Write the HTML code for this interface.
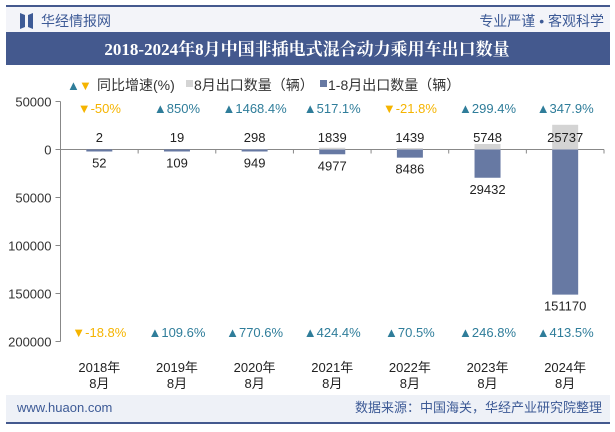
<!DOCTYPE html>
<html><head><meta charset="utf-8"><style>
body{margin:0;width:615px;height:427px;background:#fff;overflow:hidden;font-family:"Liberation Sans","Noto Sans CJK SC",sans-serif}
</style></head><body>
<svg width="615" height="427" xmlns="http://www.w3.org/2000/svg" font-family="Liberation Sans, Noto Sans CJK SC, sans-serif">
<rect x="6" y="5" width="604" height="2" fill="#44598e"/>
<rect x="6" y="7" width="604" height="25" fill="#f3f4f9"/>
<path d="M20 13 L25 15 L25 27 L20 29 Z M33 13 L28 15 L28 27 L33 29 Z" fill="#3d5a96"/>
<text x="41" y="26" font-size="14" fill="#3d5a96">华经情报网</text>
<text x="604" y="26" font-size="14" fill="#3d5a96" text-anchor="end">专业严谨 • 客观科学</text>
<rect x="6" y="32" width="604" height="33" fill="#44598e"/>
<text x="307" y="55" font-size="17" font-weight="bold" fill="#fff" text-anchor="middle" font-family="Liberation Serif, Noto Serif CJK SC, serif">2018-2024年8月中国非插电式混合动力乘用车出口数量</text>
<g>
<text x="67" y="90" font-size="13" fill="#2f7d9a">▲</text>
<text x="79" y="90" font-size="13" fill="#f5b400">▼</text>
<text x="97" y="90" font-size="14" fill="#333">同比增速(%)</text>
<rect x="186" y="80" width="7" height="7" fill="#d4d4d4"/>
<text x="194" y="90" font-size="14" fill="#333">8月出口数量（辆）</text>
<rect x="320" y="80" width="7" height="7" fill="#6779a3"/>
<text x="328" y="90" font-size="14" fill="#333">1-8月出口数量（辆）</text>
</g>
<g id="plot"></g>
<rect x="6" y="395" width="604" height="27" fill="#eef1f7"/>
<rect x="6" y="422" width="604" height="2" fill="#44598e"/>
<text x="17" y="412" font-size="13" fill="#3d5a96">www.huaon.com</text>
<text x="602" y="412" font-size="13" fill="#3d5a96" text-anchor="end">数据来源：中国海关，华经产业研究院整理</text>
</svg>
<script>
const categories=["2018年","2019年","2020年","2021年","2022年","2023年","2024年"];
const augValues=[2,19,298,1839,1439,5748,25737];
const ytdValues=[52,109,949,4977,8486,29432,151170];
const augGrowth=[-50,850,1468.4,517.1,-21.8,299.4,347.9];
const ytdGrowth=[-18.8,109.6,770.6,424.4,70.5,246.8,413.5];
const yTicks=[-50000,0,50000,100000,150000,200000];
const yTickLabels=["50000","0","50000","100000","150000","200000"];

const NS="http://www.w3.org/2000/svg";
const plot=document.getElementById('plot');
const x0=60.5,x1=604,zeroY=149.5,pxPer=192/200000;
const bw=(x1-x0)/categories.length;
function xC(i){return x0+bw*(i+0.5);}
function y(v){return zeroY+v*pxPer;}
function mk(tag,attrs,txt){const e=document.createElementNS(NS,tag);for(const k in attrs)e.setAttribute(k,attrs[k]);if(txt!==undefined)e.textContent=txt;plot.appendChild(e);return e;}
function fmt(v){return (v>0?"▲":"▼")+v+"%";}

let ax=mk('line',{x1:x0,y1:y(-50000),x2:x0,y2:y(200000),stroke:'#888'});


yTicks.forEach((t,i)=>{
 let l=mk('line',{x1:x0-5,x2:x0,y1:y(t),y2:y(t),stroke:'#888'});
 
 
 let tx=mk('text',{x:x0-9,y:y(t)+5,'font-size':13,fill:'#333','text-anchor':'end'},yTickLabels[i]);
 
 
});
let xa=mk('line',{x1:x0,x2:x1,y1:zeroY,y2:zeroY,stroke:'#888'});


for(let i=1;i<=categories.length;i++){
 let l=mk('line',{x1:x0+bw*i,x2:x0+bw*i,y1:zeroY,y2:zeroY+4,stroke:'#888'});
 
 
}
categories.forEach((c,i)=>{
 const cx=xC(i);
 const yt=y(-augValues[i]);
 let g=mk('rect',{x:cx-13,y:yt,width:26,height:Math.max(zeroY-yt,0.5),fill:'#d4d4d4'});
 
 
 const yb=y(ytdValues[i]);
 let b=mk('rect',{x:cx-13,y:zeroY,width:26,height:Math.max(yb-zeroY,2),fill:'#6779a3'});
 
 
 let la=mk('text',{x:cx,y:142,'font-size':13,fill:'#222','text-anchor':'middle'},augValues[i]);
 
 
 let lb=mk('text',{x:cx,y:Math.max(yb,zeroY+2)+16,'font-size':13,fill:'#222','text-anchor':'middle'},ytdValues[i]);
 
 
 let ga=mk('text',{x:cx,y:113,'font-size':13,fill:augGrowth[i]<0?'#f5b400':'#2f7d9a','text-anchor':'middle'},fmt(augGrowth[i]));
 
 
 let gy=mk('text',{x:cx,y:337,'font-size':13,fill:ytdGrowth[i]<0?'#f5b400':'#2f7d9a','text-anchor':'middle'},fmt(ytdGrowth[i]));
 
 
 let c1=mk('text',{x:cx,y:372,'font-size':13,fill:'#222','text-anchor':'middle'},c);
 
 
 let c2=mk('text',{x:cx,y:388,'font-size':13,fill:'#222','text-anchor':'middle'},'8月');
 
 
});
</script>
</body></html>
